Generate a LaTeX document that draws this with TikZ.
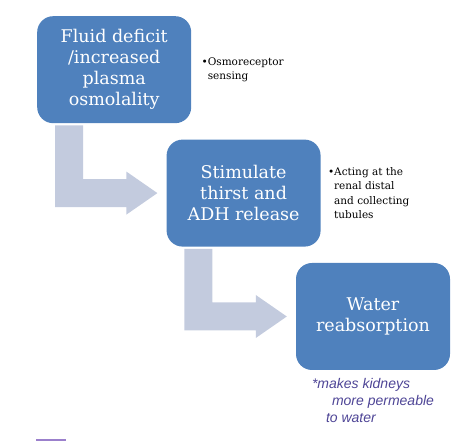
\documentclass[tikz,border=0pt]{standalone}
\usepackage{fontspec}
\setmainfont{DejaVu Serif}
\newfontfamily\handfont{Liberation Sans}
\usepackage{xcolor}
\definecolor{stepblue}{HTML}{4F81BD}
\definecolor{flowgray}{HTML}{C3CBDE}
\definecolor{inkpurple}{HTML}{4E4596}
\definecolor{lavender}{HTML}{9B80CC}
\usepackage{tikz}
\usetikzlibrary{positioning, calc}

% bent arrow from the bottom of one step to the left side of the next
\newcommand{\bentarrow}[2]{%
  \fill[flow] let \p1=(#1.south west), \p2=(#2.west) in
    (\x1+18pt,\y1-2pt) -- (\x1+46pt,\y1-2pt) -- (\x1+46pt,\y2+14pt)
    -- (\x2-40pt,\y2+14pt) -- (\x2-40pt,\y2+21.5pt) -- (\x2-9pt,\y2)
    -- (\x2-40pt,\y2-21.5pt) -- (\x2-40pt,\y2-14pt) -- (\x1+18pt,\y2-14pt) -- cycle;}

\begin{document}
\begin{tikzpicture}[x=1pt, y=1pt,
  stepbox/.style={fill=stepblue, rounded corners=16pt,
    minimum width=154pt, minimum height=107pt, inner sep=0pt,
    align=center, text=white, font=\fontsize{17.5}{21}\selectfont},
  notetext/.style={align=left, inner sep=0pt, font=\fontsize{10.5}{14.5}\selectfont},
  handnote/.style={align=left, inner sep=0pt, text=inkpurple,
    font=\handfont\itshape\fontsize{14}{17}\selectfont},
  flow/.style={fill=flowgray}]
  \useasboundingbox (0,0) rectangle (474,441);

  \node[stepbox, anchor=north west] (deficit) at (37,425)
    {Fluid deficit\\/increased\\plasma\\osmolality};
  \node[stepbox, below right=16pt and -25pt of deficit] (stimulate)
    {Stimulate\\thirst and\\ADH release};
  \node[stepbox, below right=16pt and -25pt of stimulate] (water)
    {Water\\reabsorption};

  \bentarrow{deficit}{stimulate}
  \bentarrow{stimulate}{water}

  \node[notetext, right=10pt of deficit] (sensing)
    {\textbullet Osmoreceptor\\\hphantom{\textbullet}sensing};
  \node[notetext, right=7pt of stimulate] (tubules)
    {\textbullet Acting at the\\\hphantom{\textbullet}renal distal\\
     \hphantom{\textbullet}and collecting\\\hphantom{\textbullet}tubules};

  \node[handnote, below=8pt of water] (remark)
    {*makes kidneys\\\hspace*{20pt}more permeable\\\hspace*{14pt}to water};

  \fill[lavender] (36,0) rectangle (66,2);
\end{tikzpicture}
\end{document}
